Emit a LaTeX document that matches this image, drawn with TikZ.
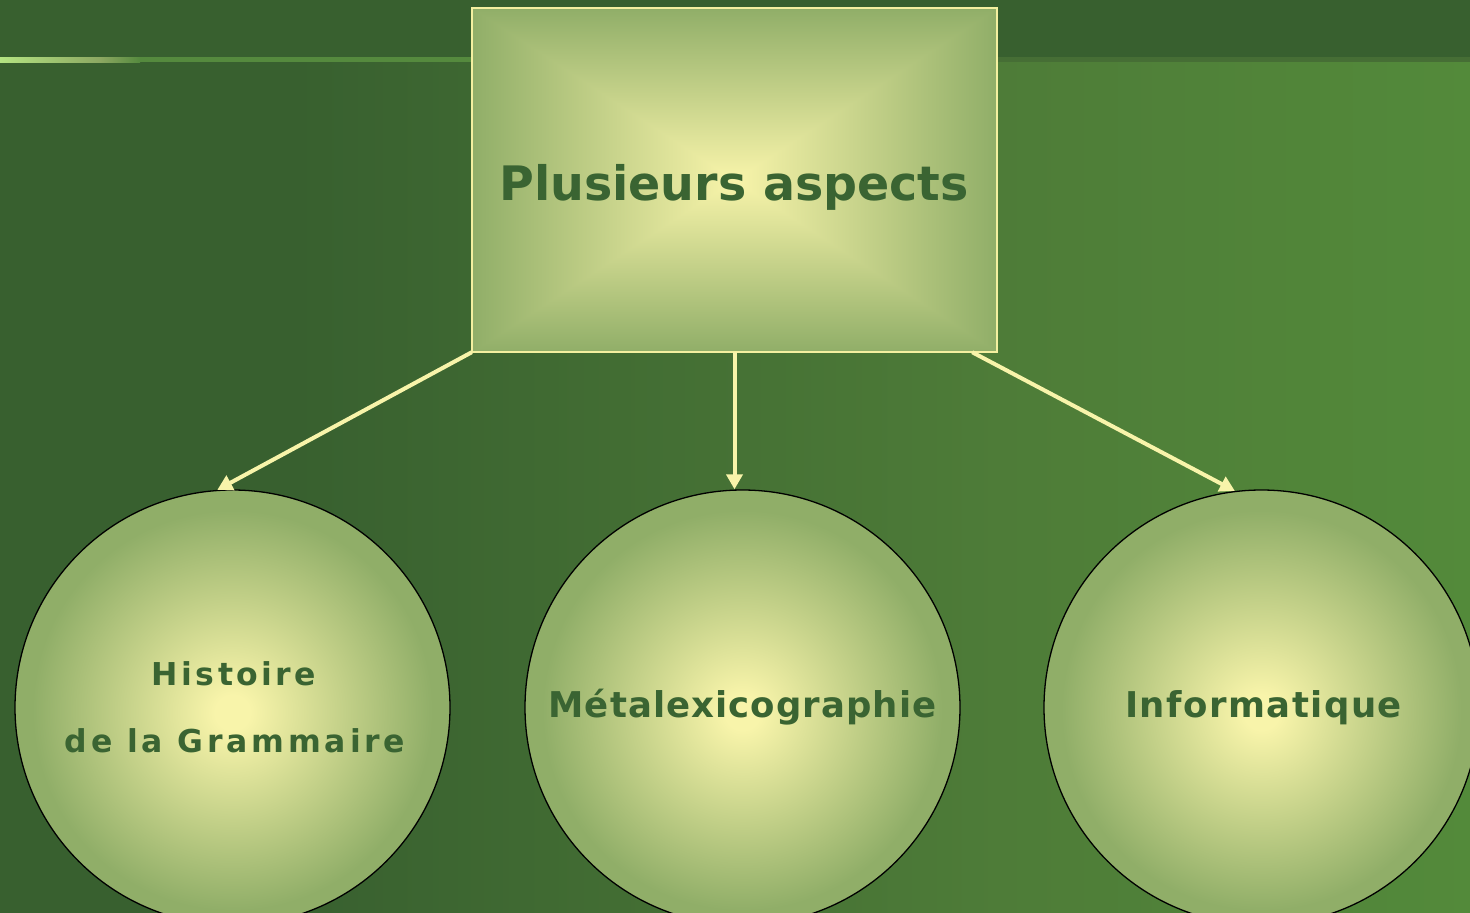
\documentclass[tikz,border=0pt]{standalone}
\usepackage{fontspec}
\setmainfont{DejaVu Sans}
\usetikzlibrary{arrows.meta,calc}
\definecolor{bgdark}{HTML}{38602F}
\definecolor{bgright}{HTML}{538A3A}
\definecolor{bgmid}{HTML}{4E7C38}
\definecolor{bandright}{HTML}{466E35}
\definecolor{linebright}{HTML}{B4E482}
\definecolor{linemid}{HTML}{8CA862}
\definecolor{lineend}{HTML}{558A3E}
\definecolor{glowin}{HTML}{F8F4AA}
\definecolor{glowout}{HTML}{90AE68}
\definecolor{boxline}{HTML}{F4F0A0}
\definecolor{arrowcol}{HTML}{F8F4AA}
\definecolor{txt}{HTML}{3A6432}
\pgfdeclareradialshading{ballglow}{\pgfpoint{0bp}{-0.6bp}}{color(0bp)=(glowin);color(2bp)=(glowin);color(23bp)=(glowout);color(50bp)=(glowout)}
\pgfdeclarehorizontalshading{bggrad}{100bp}{color(0bp)=(bgdark);color(35bp)=(bgdark);color(59bp)=(bgmid);color(75bp)=(bgright);color(100bp)=(bgright)}
\pgfdeclarefunctionalshading{rectglow}{\pgfpoint{-50bp}{-50bp}}{\pgfpoint{50bp}{50bp}}{}{
  abs exch abs 2 copy lt {exch} if pop 25 div dup 1 gt {pop 1} if
  dup -0.408 mul 0.973 add exch dup -0.275 mul 0.957 add exch -0.259 mul 0.667 add
}
\tikzset{
  circ/.style={circle, minimum size=435pt, inner sep=0pt, draw=black, line width=1.3pt, shading=ballglow},
  arr/.style={draw=arrowcol, line width=4pt, -{Triangle[length=15pt,width=16pt]}},
  lab/.style={text=txt, inner sep=0pt, anchor=base}
}
\begin{document}
\begin{tikzpicture}[x=1pt,y=-1pt]
\useasboundingbox (0,0) rectangle (1470,913);
\clip (0,0) rectangle (1470,913);
% background
\shade[shading=bggrad] (0,0) rectangle (1470,913);
\fill[bgdark] (0,0) rectangle (1470,57);
\fill[bandright] (997,57) rectangle (1470,62);
\shade[left color=linebright, right color=linemid] (0,57) rectangle (100,62);
\shade[left color=linemid, right color=lineend] (100,57) rectangle (140,62);
\fill[lineend] (140,57) rectangle (472,62);
% box
\path node (box) at (734.5,180) [rectangle, minimum width=525pt, minimum height=344pt, inner sep=0pt] {};
\shade[shading=rectglow] (box.north west) rectangle (box.south east);
\draw[boxline, line width=2pt] (box.north west) rectangle (box.south east);
\node[lab, font=\bfseries\fontsize{47.5}{58}\selectfont] (t0) at (734,200) {Plusieurs aspects};
% circles
\node[circ] (c1) at (232.5,707.5) {};
\node[circ] (c2) at (742.5,707.5) {};
\node[circ] (c3) at (1261.5,707.5) {};
\node[lab, font=\bfseries\fontsize{31.5}{36}\selectfont\addfontfeature{LetterSpace=11}] (t1a) at (234,685) {Histoire};
\node[lab, font=\bfseries\fontsize{31.5}{36}\selectfont\addfontfeature{LetterSpace=12}] (t1b) at (235,752) {de la Grammaire};
\node[lab, font=\bfseries\fontsize{35.5}{40}\selectfont\addfontfeature{LetterSpace=3}] (t2) at (742.5,717) {Métalexicographie};
\node[lab, font=\bfseries\fontsize{35.5}{40}\selectfont\addfontfeature{LetterSpace=4.1}] (t3) at (1263.5,717) {Informatique};
% arrows
\coordinate (s3) at ($(box.south east)+(-25,0)$);
\draw[arr] (box.south west) -- (c1.94);
\draw[arr] (box.south) -- (box.south |- c2.north);
\draw[arr] (s3) -- (c3.97);
\end{tikzpicture}
\end{document}
